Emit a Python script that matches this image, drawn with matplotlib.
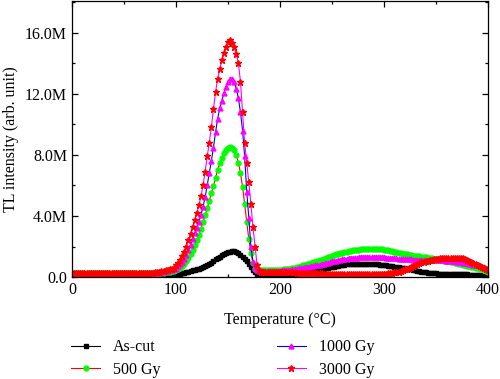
import numpy as np
import matplotlib
matplotlib.use("Agg")
import matplotlib.pyplot as plt
from matplotlib.ticker import MultipleLocator, FuncFormatter

plt.rcParams['font.family'] = ['Liberation Serif', 'DejaVu Serif']

# Temperatura (°C), paso de 2 grados
temperature = np.arange(0, 401, 2)

# Intensidad TL en millones (M)
as_cut = [
    0.10, 0.10, 0.10, 0.10, 0.10, 0.10, 0.10, 0.10, 0.10, 0.10,
    0.10, 0.10, 0.10, 0.10, 0.10, 0.10, 0.10, 0.10, 0.10, 0.10,
    0.10, 0.10, 0.10, 0.10, 0.10, 0.10, 0.10, 0.10, 0.10, 0.10,
    0.10, 0.10, 0.10, 0.10, 0.10, 0.10, 0.10, 0.10, 0.10, 0.10,
    0.10, 0.10, 0.10, 0.10, 0.10, 0.10, 0.11, 0.12, 0.13, 0.14,
    0.16, 0.18, 0.21, 0.24, 0.28, 0.32, 0.36, 0.40, 0.44, 0.48,
    0.52, 0.56, 0.61, 0.66, 0.72, 0.78, 0.86, 0.95, 1.05, 1.15,
    1.25, 1.34, 1.43, 1.51, 1.58, 1.63, 1.67, 1.69, 1.68, 1.64,
    1.56, 1.45, 1.32, 1.18, 1.02, 0.85, 0.66, 0.47, 0.30, 0.18,
    0.12, 0.11, 0.10, 0.10, 0.10, 0.10, 0.10, 0.11, 0.11, 0.12,
    0.13, 0.14, 0.15, 0.16, 0.17, 0.19, 0.21, 0.23, 0.25, 0.27,
    0.29, 0.31, 0.33, 0.35, 0.37, 0.39, 0.41, 0.43, 0.45, 0.48,
    0.51, 0.54, 0.57, 0.60, 0.63, 0.66, 0.69, 0.72, 0.75, 0.77,
    0.79, 0.81, 0.83, 0.84, 0.85, 0.86, 0.87, 0.87, 0.88, 0.88,
    0.88, 0.88, 0.87, 0.87, 0.86, 0.85, 0.84, 0.83, 0.82, 0.80,
    0.78, 0.76, 0.74, 0.72, 0.70, 0.68, 0.66, 0.64, 0.62, 0.60,
    0.58, 0.56, 0.53, 0.50, 0.47, 0.44, 0.41, 0.38, 0.35, 0.33,
    0.31, 0.29, 0.27, 0.26, 0.25, 0.24, 0.23, 0.22, 0.22, 0.21,
    0.21, 0.20, 0.20, 0.20, 0.19, 0.19, 0.19, 0.18, 0.18, 0.17,
    0.17, 0.16, 0.15, 0.14, 0.13, 0.12, 0.11, 0.09, 0.07, 0.05,
    0.03,
]

gy_500 = [
    0.25, 0.25, 0.25, 0.25, 0.25, 0.25, 0.25, 0.25, 0.25, 0.25,
    0.25, 0.25, 0.25, 0.25, 0.25, 0.25, 0.25, 0.25, 0.25, 0.25,
    0.25, 0.25, 0.25, 0.25, 0.25, 0.25, 0.25, 0.25, 0.25, 0.25,
    0.25, 0.25, 0.25, 0.25, 0.25, 0.25, 0.25, 0.25, 0.26, 0.27,
    0.27, 0.28, 0.28, 0.29, 0.29, 0.30, 0.32, 0.34, 0.37, 0.41,
    0.46, 0.53, 0.62, 0.74, 0.88, 1.04, 1.25, 1.50, 1.78, 2.08,
    2.40, 2.75, 3.15, 3.60, 4.05, 4.50, 5.00, 5.50, 5.95, 6.50,
    7.00, 7.45, 7.80, 8.10, 8.30, 8.45, 8.50, 8.45, 8.30, 8.00,
    7.50, 6.80, 5.90, 4.80, 3.60, 2.50, 1.60, 0.90, 0.55, 0.47,
    0.45, 0.44, 0.44, 0.44, 0.44, 0.44, 0.44, 0.45, 0.45, 0.46,
    0.47, 0.48, 0.50, 0.52, 0.54, 0.56, 0.59, 0.62, 0.65, 0.69,
    0.72, 0.76, 0.80, 0.84, 0.88, 0.92, 0.96, 1.00, 1.04, 1.09,
    1.14, 1.19, 1.24, 1.29, 1.34, 1.39, 1.44, 1.48, 1.52, 1.56,
    1.60, 1.63, 1.66, 1.69, 1.72, 1.75, 1.77, 1.79, 1.80, 1.81,
    1.82, 1.83, 1.83, 1.84, 1.84, 1.84, 1.83, 1.83, 1.82, 1.81,
    1.79, 1.77, 1.75, 1.72, 1.69, 1.66, 1.63, 1.60, 1.57, 1.54,
    1.51, 1.48, 1.45, 1.43, 1.41, 1.39, 1.37, 1.35, 1.33, 1.31,
    1.29, 1.27, 1.25, 1.23, 1.21, 1.19, 1.17, 1.14, 1.11, 1.08,
    1.05, 1.02, 0.99, 0.96, 0.93, 0.90, 0.87, 0.84, 0.81, 0.78,
    0.75, 0.72, 0.69, 0.66, 0.62, 0.58, 0.54, 0.50, 0.45, 0.40,
    0.35,
]

gy_1000 = [
    0.25, 0.25, 0.25, 0.25, 0.25, 0.25, 0.25, 0.25, 0.25, 0.25,
    0.25, 0.25, 0.25, 0.25, 0.25, 0.25, 0.25, 0.25, 0.25, 0.25,
    0.25, 0.25, 0.25, 0.25, 0.25, 0.25, 0.25, 0.25, 0.25, 0.25,
    0.25, 0.25, 0.25, 0.25, 0.25, 0.25, 0.25, 0.25, 0.26, 0.27,
    0.28, 0.29, 0.30, 0.32, 0.34, 0.37, 0.40, 0.43, 0.46, 0.50,
    0.56, 0.70, 0.83, 0.99, 1.20, 1.46, 1.75, 2.11, 2.49, 2.87,
    3.24, 3.63, 4.07, 4.60, 5.23, 6.01, 6.83, 7.60, 8.48, 9.47,
    10.35, 11.05, 11.55, 12.03, 12.43, 12.75, 12.96, 12.95, 12.75, 12.35,
    11.70, 10.80, 9.60, 7.90, 5.60, 3.90, 2.00, 1.00, 0.60, 0.45,
    0.42, 0.40, 0.40, 0.40, 0.40, 0.40, 0.40, 0.40, 0.40, 0.41,
    0.42, 0.43, 0.44, 0.45, 0.46, 0.48, 0.50, 0.52, 0.54, 0.57,
    0.59, 0.61, 0.63, 0.65, 0.67, 0.70, 0.73, 0.76, 0.79, 0.82,
    0.85, 0.88, 0.92, 0.95, 0.99, 1.02, 1.05, 1.08, 1.11, 1.14,
    1.16, 1.18, 1.20, 1.22, 1.24, 1.25, 1.27, 1.28, 1.29, 1.30,
    1.31, 1.31, 1.32, 1.32, 1.32, 1.32, 1.32, 1.31, 1.31, 1.30,
    1.29, 1.28, 1.27, 1.26, 1.25, 1.23, 1.22, 1.21, 1.20, 1.19,
    1.18, 1.17, 1.16, 1.15, 1.14, 1.13, 1.12, 1.12, 1.11, 1.11,
    1.11, 1.11, 1.11, 1.11, 1.11, 1.11, 1.11, 1.10, 1.10, 1.09,
    1.08, 1.07, 1.06, 1.05, 1.03, 1.01, 0.99, 0.97, 0.95, 0.93,
    0.91, 0.88, 0.85, 0.82, 0.79, 0.76, 0.72, 0.68, 0.64, 0.60,
    0.56,
]

gy_3000 = [
    0.25, 0.25, 0.25, 0.25, 0.25, 0.25, 0.25, 0.25, 0.25, 0.25,
    0.25, 0.25, 0.25, 0.25, 0.25, 0.25, 0.25, 0.25, 0.25, 0.25,
    0.25, 0.25, 0.25, 0.25, 0.25, 0.25, 0.25, 0.25, 0.25, 0.25,
    0.25, 0.25, 0.25, 0.25, 0.25, 0.26, 0.26, 0.27, 0.28, 0.29,
    0.30, 0.32, 0.34, 0.37, 0.40, 0.44, 0.48, 0.52, 0.56, 0.62,
    0.80, 0.95, 1.12, 1.35, 1.65, 1.98, 2.40, 2.85, 3.30, 3.75,
    4.20, 4.70, 5.30, 6.00, 6.90, 7.90, 8.80, 9.80, 11.00, 12.10,
    13.00, 13.60, 14.20, 14.70, 15.10, 15.40, 15.50, 15.35, 15.05, 14.60,
    14.00, 12.80, 10.80, 8.80, 7.50, 6.20, 4.80, 3.30, 2.00, 0.80,
    0.45, 0.36, 0.34, 0.33, 0.33, 0.33, 0.33, 0.33, 0.33, 0.33,
    0.33, 0.33, 0.32, 0.32, 0.31, 0.31, 0.30, 0.30, 0.29, 0.29,
    0.28, 0.28, 0.27, 0.27, 0.26, 0.26, 0.25, 0.25, 0.24, 0.24,
    0.24, 0.23, 0.23, 0.23, 0.22, 0.22, 0.22, 0.22, 0.21, 0.21,
    0.21, 0.21, 0.20, 0.20, 0.20, 0.20, 0.20, 0.20, 0.20, 0.20,
    0.20, 0.20, 0.20, 0.20, 0.20, 0.20, 0.20, 0.20, 0.21, 0.21,
    0.22, 0.23, 0.24, 0.26, 0.28, 0.30, 0.33, 0.36, 0.40, 0.45,
    0.50, 0.55, 0.61, 0.67, 0.73, 0.80, 0.86, 0.92, 0.97, 1.01,
    1.04, 1.07, 1.10, 1.13, 1.16, 1.18, 1.20, 1.22, 1.24, 1.25,
    1.26, 1.27, 1.28, 1.28, 1.28, 1.28, 1.27, 1.25, 1.22, 1.18,
    1.13, 1.07, 1.01, 0.95, 0.88, 0.81, 0.74, 0.67, 0.60, 0.52,
    0.45,
]

labels = ['As-cut', '500 Gy', '1000 Gy', '3000 Gy']
line_colors = ['black', 'red', 'blue', 'magenta']
marker_colors = ['black', '#00ff00', 'magenta', 'red']
markers = ['s', 'o', '^', '*']
series = [as_cut, gy_500, gy_1000, gy_3000]

fig = plt.figure(figsize=(5.0, 3.79), dpi=100)
ax = fig.add_axes([0.144, 0.269, 0.832, 0.729])

for y, lab, lc, mc, mk in zip(series, labels, line_colors, marker_colors, markers):
    ms = 4.5 if mk == '*' else 3.5
    ax.plot(temperature, y, color=lc, linewidth=0.8, marker=mk, markersize=ms,
            markerfacecolor=mc, markeredgecolor=mc, label=lab)

ax.set_xlim(0, 400)
ax.set_ylim(0, 18.1)

ax.xaxis.set_major_locator(MultipleLocator(100))
ax.xaxis.set_minor_locator(MultipleLocator(50))
ax.yaxis.set_major_locator(MultipleLocator(4))
ax.yaxis.set_minor_locator(MultipleLocator(2))
ax.yaxis.set_major_formatter(FuncFormatter(lambda v, p: '0.0' if v == 0 else f'{v:.1f}M'))

ax.tick_params(which='both', direction='in', top=True, right=True, labelsize=11.5, width=0.9)
ax.tick_params(which='major', length=4)
ax.tick_params(which='minor', length=2.5)
for s in ax.spines.values():
    s.set_linewidth(0.9)

ax.set_xlabel('Temperature (°C)', fontsize=11.5, labelpad=10)
ax.set_ylabel('TL intensity (arb. unit)', fontsize=11.5)

fig.legend(loc='upper left', bbox_to_anchor=(0.13, 0.122), ncol=2, frameon=False,
           fontsize=11.5, numpoints=1, handlelength=1.8, columnspacing=7.3,
           labelspacing=0.4, borderaxespad=0)

fig.savefig('out.png', dpi=100)
